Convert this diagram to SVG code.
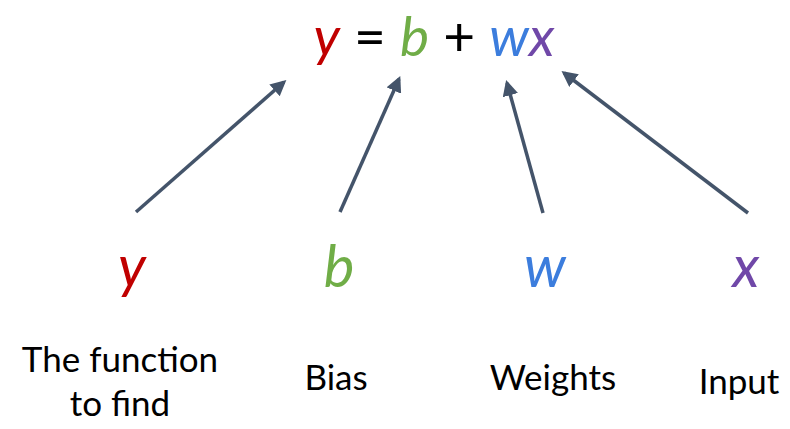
<svg xmlns="http://www.w3.org/2000/svg" width="790" height="429" viewBox="0 0 790 429">
<style>
text{font-family:Lato,"Open Sans","Liberation Sans",sans-serif}
.eq{font-size:55px}
.var{font-size:58px;font-style:italic}
.lbl{font-size:35px;fill:#000;text-anchor:middle}
.c{stroke:#44546A;stroke-width:3.5;fill:none;marker-end:url(#ah)}
.r{fill:#C00000}.g{fill:#70AD47}.b{fill:#3C7DDD}.p{fill:#7048A8}
</style>
<defs>
<marker id="ah" viewBox="0 0 10 10" refX="8" refY="5" markerWidth="4.5" markerHeight="4.5" orient="auto" markerUnits="strokeWidth">
<path d="M0,0 L10,5 L0,10 z" fill="#44546A"/>
</marker>
</defs>
<g id="equation">
<text x="434" y="56" class="eq" text-anchor="middle"><tspan class="r" font-style="italic">y</tspan><tspan> = </tspan><tspan class="g" font-style="italic">b</tspan><tspan> + </tspan><tspan class="b" font-style="italic">w</tspan><tspan class="p" font-style="italic">x</tspan></text>
</g>
<g id="connectors">
<line class="c" x1="136" y1="212" x2="284" y2="82"/>
<line class="c" x1="340" y1="212" x2="399" y2="79"/>
<line class="c" x1="543" y1="213" x2="507" y2="83"/>
<line class="c" x1="748" y1="213" x2="564" y2="73"/>
</g>
<g id="node-y">
<text x="132" y="287" class="var r" text-anchor="middle">y</text>
<text x="120" y="372" class="lbl">The function</text>
<text x="120" y="416" class="lbl">to find</text>
</g>
<g id="node-b">
<text x="339" y="287" class="var g" text-anchor="middle">b</text>
<text x="336" y="390" class="lbl">Bias</text>
</g>
<g id="node-w">
<text x="545" y="287" class="var b" text-anchor="middle">w</text>
<text x="553" y="390" class="lbl">Weights</text>
</g>
<g id="node-x">
<text x="746" y="287" class="var p" text-anchor="middle">x</text>
<text x="739" y="394" class="lbl">Input</text>
</g>
</svg>
